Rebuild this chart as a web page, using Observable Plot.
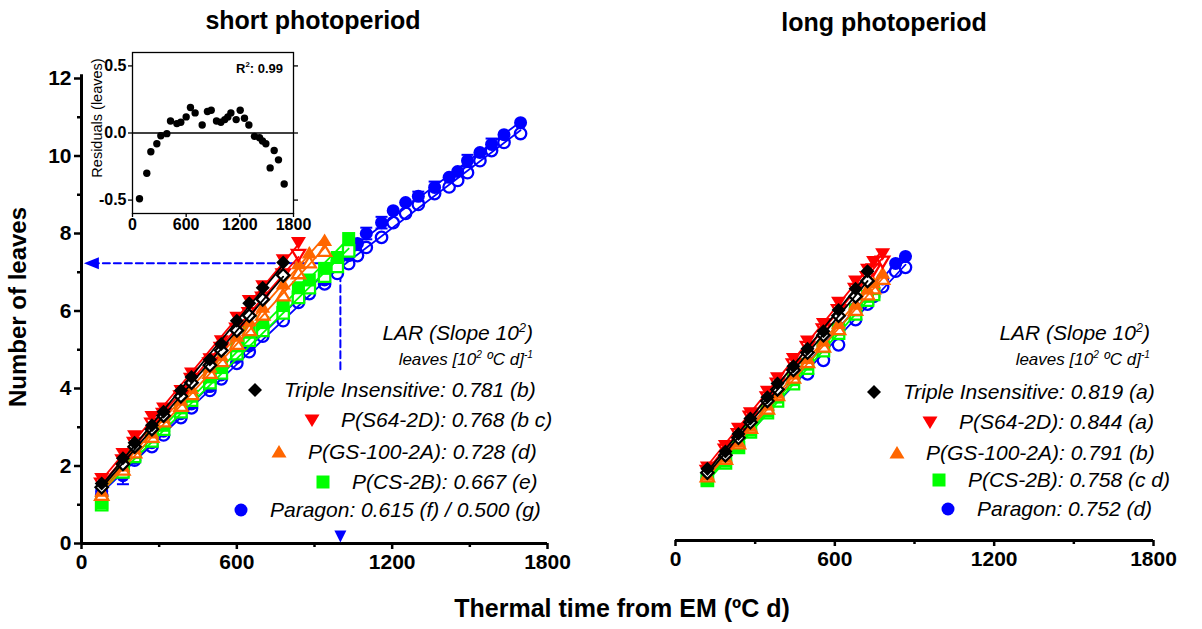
<!DOCTYPE html>
<html><head><meta charset="utf-8">
<script src="https://cdn.jsdelivr.net/npm/d3@7"></script>
<script src="https://cdn.jsdelivr.net/npm/@observablehq/plot@0.6"></script>
<style>
body{margin:0;background:#fff;font-family:"Liberation Sans",Arial,sans-serif;color:#000;}
#root{position:relative;width:1202px;height:629px;overflow:hidden;background:#fff;}
.abs{position:absolute;white-space:nowrap;}
.ttl{font-weight:bold;font-size:25px;transform:translate(-50%,-50%);}
.leg{font-style:italic;font-size:21px;display:flex;align-items:center;transform:translateY(-50%);}
.head{font-style:italic;font-size:21px;transform:translateY(-50%);}
.sub{font-style:italic;font-size:17px;transform:translateY(-50%);}
sup{font-size:0.6em;vertical-align:super;line-height:0;}
</style></head><body><div id="root"></div>
<script>
// ---------- data ----------
const shortTimes = [78,160,205,272,317,384,425,496,540,600,648,700,779,838,880,939,988,1032,1066,1100,1159,1204,1252,1301,1364,1420,1453,1491,1539,1584,1632,1696];
const longTimes = [120,188,237,282,346,384,444,497,557,614,678,723,746,780,829,866];

const genotypes = ["Triple Insensitive","P(S64-2D)","P(GS-100-2A)","P(CS-2B)","Paragon"];
const colors = ["#000000","#ff0000","#ff6600","#00ff00","#0000ff"];
const larShort = ["0.781 (b)","0.768 (b c)","0.728 (d)","0.667 (e)","0.615 (f) / 0.500 (g)"];
const larLong = ["0.819 (a)","0.844 (a)","0.791 (b)","0.758 (c d)","0.752 (d)"];

// short photoperiod (filled = _f, open = _o)
const sTI_f = [1.55,2.2,2.6,3.05,3.4,3.95,4.3,4.75,5.15,5.75,6.2,6.6,7.25];
const sTI_o = [1.45,2.05,2.5,2.95,3.3,3.8,4.15,4.6,4.98,5.5,5.88,6.3,6.92];
const sS64_f = [1.68,2.32,2.78,3.28,3.5,3.95,4.4,4.77,5.23,5.84,6.27,6.65,7.32,7.77];
const sS64_o = [1.55,2.15,2.6,3.1,3.35,3.8,4.25,4.65,5.05,5.55,5.95,6.35,6.95,7.45];
const sGS_f = [1.35,2.0,2.45,2.85,3.25,3.7,4.0,4.55,4.85,5.35,5.75,6.1,6.7,7.22,7.5,7.82];
const sGS_o = [1.25,1.9,2.35,2.75,3.15,3.55,3.85,4.4,4.7,5.15,5.5,5.9,6.4,6.97,7.25,7.55];
const sCS_f = [1.05,1.95,2.35,2.75,3.05,3.5,3.8,4.3,4.54,5.1,5.45,5.7,6.14,6.6,6.8,7.1,7.38,7.87];
const sCS_o = [1.0,1.85,2.25,2.65,2.95,3.4,3.7,4.15,4.4,4.9,5.25,5.5,5.95,6.35,6.6,6.9,7.15,7.55];
const sPar_f = [1.35,1.75,2.2,2.6,2.9,3.35,3.6,4.05,4.35,4.8,5.1,5.5,5.96,6.45,6.66,6.8,7.17,7.43,7.74,8.0,8.28,8.59,8.8,8.96,9.19,9.45,9.6,9.88,10.09,10.3,10.55,10.86];
const sPar_o = [1.25,1.9,2.15,2.5,2.8,3.25,3.5,3.95,4.25,4.65,4.95,5.35,5.75,6.22,6.45,6.7,6.97,7.22,7.43,7.64,7.9,8.28,8.52,8.75,9.03,9.2,9.37,9.57,9.88,10.14,10.35,10.58];
const sPar_se = [0,0.22,0,0,0,0,0,0,0,0,0,0,0,0,0,0,0,0,0,0.15,0.15,0,0,0.12,0.15,0,0,0.15,0,0.15,0,0];
const parBreak = 1000; // bilinear break for Paragon (short photoperiod)

// long photoperiod
const lTI_f = [1.85,2.3,2.75,3.15,3.7,4.05,4.5,4.95,5.4,5.95,6.5,6.95];
const lTI_o = [1.75,2.2,2.65,3.05,3.6,3.9,4.4,4.85,5.3,5.8,6.3,6.7];
const lS64_f = [1.9,2.45,2.9,3.3,3.85,4.2,4.7,5.15,5.6,6.15,6.7,7.0,7.2,7.4];
const lS64_o = [1.8,2.35,2.75,3.2,3.7,4.05,4.55,5.0,5.45,5.95,6.5,6.8,7.0,7.2];
const lGS_f = [1.7,2.15,2.55,2.95,3.5,3.8,4.3,4.7,5.15,5.6,6.1,6.5,6.65,6.9];
const lGS_o = [1.65,2.1,2.5,2.9,3.4,3.75,4.2,4.6,5.0,5.45,5.95,6.35,6.5,6.75];
const lCS_f = [1.6,2.05,2.45,2.85,3.35,3.7,4.15,4.55,5.0,5.45,5.95,6.3,6.5];
const lCS_o = [1.55,2.0,2.4,2.8,3.3,3.6,4.05,4.45,4.9,5.35,5.85,6.2,6.35];
const lPar_f = [1.65,2.1,2.5,2.9,3.4,3.75,4.2,4.6,5.05,5.5,6.0,6.35,6.55,6.75,7.15,7.33];
const lPar_o = [1.6,2.05,2.45,2.85,3.35,3.7,4.1,4.3,4.65,5.05,5.7,6.1,6.3,6.55,6.95,7.05];

// residuals inset (Paragon, short photoperiod)
const resT = [78,160,205,272,317,384,425,496,540,600,648,700,779,838,880,939,988,1032,1066,1100,1159,1204,1252,1301,1364,1420,1453,1491,1539,1584,1632,1696];
const resV = [-0.49,-0.30,-0.14,-0.08,-0.02,-0.005,0.09,0.07,0.08,0.12,0.19,0.15,0.06,0.16,0.17,0.09,0.08,0.10,0.12,0.15,0.10,0.17,0.11,0.06,-0.025,-0.035,-0.06,-0.08,-0.26,-0.13,-0.20,-0.38];
const r2Text = "0.99";

// guide (blue dashed arrow at 1000 ºC d)
const guideT = 1000, guideLeaves = 7.23, guideLow = 4.41, arrowT = 40, markLeaves = 0.18;

// axis ticks
const yMajor = [0,2,4,6,8,10,12], yMinor = [1,3,5,7,9,11];
const xMajor = [0,600,1200,1800], xMinor = [300,900,1500];

// ---------- symbols ----------
function sym(kind, k) {
  return {draw(c) {
    if (kind === "diamond") { const a = 7*k; c.moveTo(0,-a); c.lineTo(a,0); c.lineTo(0,a); c.lineTo(-a,0); c.closePath(); }
    else if (kind === "down") { c.moveTo(-7.5*k,-5.5*k); c.lineTo(7.5*k,-5.5*k); c.lineTo(0,7*k); c.closePath(); }
    else if (kind === "up") { c.moveTo(-7.5*k,5.5*k); c.lineTo(7.5*k,5.5*k); c.lineTo(0,-7*k); c.closePath(); }
    else if (kind === "square") { const a = 6.5*k; c.moveTo(-a,-a); c.lineTo(a,-a); c.lineTo(a,a); c.lineTo(-a,a); c.closePath(); }
    else if (kind === "circle") { const a = 6.5*k; c.moveTo(a,0); c.arc(0,0,a,0,2*Math.PI); }
    else if (kind === "left") { c.moveTo(-8,0); c.lineTo(7,-6); c.lineTo(7,6); c.closePath(); }
    else if (kind === "cap") { c.moveTo(-6,0); c.lineTo(6,0); }
  }};
}
const kinds = ["diamond","down","up","square","circle"];
const markDown = {draw(c){ c.moveTo(-6,-6); c.lineTo(6,-6); c.lineTo(0,6); c.closePath(); }};

function rows(times, vals) { return vals.map((v,i) => ({t: times[i], v})); }

const shortSeries = [[sTI_f,sTI_o],[sS64_f,sS64_o],[sGS_f,sGS_o],[sCS_f,sCS_o],[sPar_f,sPar_o]];
const longSeries = [[lTI_f,lTI_o],[lS64_f,lS64_o],[lGS_f,lGS_o],[lCS_f,lCS_o],[lPar_f,lPar_o]];

const font = "Liberation Sans, Arial, sans-serif";

function fitLines(data, color, brk) {
  const parts = brk ? [data.filter(d => d.t <= brk), data.filter(d => d.t >= brk - 40)] : [data];
  return parts.map(p => Plot.linearRegressionY(p, {x:"t", y:"v", stroke: color, strokeWidth: 1.8, ci: 0}));
}

function seriesMarks(times, series, brkFor) {
  const m = [];
  for (let g = 4; g >= 0; g--) {
    const [f, o] = series[g];
    const fd = rows(times, f), od = rows(times, o);
    const brk = brkFor ? brkFor[g] : null;
    m.push(Plot.dot(od, {x:"t", y:"v", symbol: sym(kinds[g], 0.88), fill:"white", stroke: colors[g], strokeWidth: 2.3}));
    m.push(Plot.dot(fd, {x:"t", y:"v", symbol: sym(kinds[g], 1), fill: colors[g]}));
    m.push(...fitLines(od, colors[g], brk));
    m.push(...fitLines(fd, colors[g], brk));
  }
  return m;
}

function xAxes() {
  return [
    Plot.axisX({ticks: xMajor, tickSize: 6, tickPadding: 5, strokeWidth: 2.5, fontSize: 21, fontWeight: "bold", label: null, tickFormat: d => String(d)}),
    Plot.axisX({ticks: xMinor, tickSize: 4, strokeWidth: 2.5, label: null, tickFormat: () => ""}),
    Plot.ruleY([0], {x1: 0, x2: 1800, strokeWidth: 3})
  ];
}

const style = {background:"transparent", fontFamily: font, fontSize:"21px", fontWeight:"bold", color:"#000", overflow:"visible"};

// error bars (Paragon short filled)
const parErr = sPar_f.map((v,i) => ({t: shortTimes[i], v, se: sPar_se[i]})).filter(d => d.se > 0);

const left = Plot.plot({
  width: 600, height: 629, marginLeft: 81, marginRight: 53, marginTop: 78, marginBottom: 86,
  x: {domain: [0,1800], label: null}, y: {domain: [0,12], label: null},
  style,
  marks: [
    Plot.axisY({ticks: yMajor, tickSize: 7, tickPadding: 3, strokeWidth: 2.5, fontSize: 21, fontWeight: "bold", label: null, tickFormat: d => String(d)}),
    Plot.axisY({ticks: yMinor, tickSize: 4, strokeWidth: 2.5, label: null, tickFormat: () => ""}),
    Plot.ruleX([0], {y1: 0, y2: 12.1, strokeWidth: 3}),
    ...xAxes(),
    Plot.line([[arrowT, guideLeaves],[guideT, guideLeaves]], {stroke:"#0000ff", strokeWidth: 2, strokeDasharray:"7,4"}),
    Plot.line([[guideT, guideLeaves],[guideT, guideLow]], {stroke:"#0000ff", strokeWidth: 2, strokeDasharray:"7,4"}),
    Plot.dot([[arrowT, guideLeaves]], {symbol: sym("left",1), fill:"#0000ff"}),
    Plot.dot([[guideT, markLeaves]], {symbol: markDown, fill:"#0000ff"}),
    Plot.ruleX(parErr, {x:"t", y1: d => d.v - d.se, y2: d => d.v + d.se, stroke:"#0000ff", strokeWidth: 2}),
    Plot.dot(parErr, {x:"t", y: d => d.v + d.se, symbol: sym("cap",1), stroke:"#0000ff", strokeWidth: 2}),
    Plot.dot(parErr, {x:"t", y: d => d.v - d.se, symbol: sym("cap",1), stroke:"#0000ff", strokeWidth: 2}),
    ...seriesMarks(shortTimes, shortSeries, [null,null,null,null,parBreak])
  ]
});

const right = Plot.plot({
  width: 602, height: 629, marginLeft: 75, marginRight: 49, marginTop: 75, marginBottom: 89,
  x: {domain: [0,1800], label: null}, y: {domain: [0,12], label: null, axis: null},
  style,
  marks: [
    ...xAxes(),
    ...seriesMarks(longTimes, longSeries, null)
  ]
});

const resid = resT.map((t,i) => ({t, r: resV[i]}));
const inset = Plot.plot({
  width: 240, height: 200, marginLeft: 42, marginRight: 37, marginTop: 12, marginBottom: 27,
  x: {domain: [0,1800], label: null}, y: {domain: [-0.6,0.6], label: null},
  style: {background:"transparent", fontFamily: font, fontSize:"16px", fontWeight:"bold", color:"#000", overflow:"visible"},
  marks: [
    Plot.frame({strokeWidth: 1.3}),
    Plot.ruleY([0], {strokeWidth: 1.5}),
    Plot.axisY({ticks: [-0.5,0,0.5], tickSize: 4, tickPadding: 2, strokeWidth: 1.3, fontSize: 16, fontWeight: "bold", label: null, tickFormat: d => d.toFixed(1)}),
    Plot.axisY({anchor: "right", ticks: [-0.5,0,0.5], tickSize: 4, strokeWidth: 1.3, label: null, tickFormat: () => ""}),
    Plot.axisX({ticks: [0,600,1200,1800], tickSize: 4, tickPadding: 1, strokeWidth: 1.3, fontSize: 16, fontWeight: "bold", label: null, tickFormat: d => String(d)}),
    Plot.dot(resid, {x:"t", y:"r", r: 3.7, fill:"black"})
  ]
});

// ---------- layout ----------
const root = document.getElementById("root");
function place(el, x, y) { const w = document.createElement("div"); w.className = "abs"; w.style.left = x+"px"; w.style.top = y+"px"; w.appendChild(el); root.appendChild(w); return w; }
place(left, 0, 0);
place(right, 600, 0);
place(inset, 90, 40);

function text(html, cls, css) { const d = document.createElement("div"); d.className = "abs " + cls; d.innerHTML = html; Object.assign(d.style, css); root.appendChild(d); return d; }
text("short photoperiod", "ttl", {left:"313px", top:"20px"});
text("long photoperiod", "ttl", {left:"884px", top:"22px"});
text("Thermal time from EM (ºC d)", "ttl", {left:"622px", top:"608px"});
text("Number of leaves", "ttl", {left:"18px", top:"307px", fontSize:"24px", transform:"translate(-50%,-50%) rotate(-90deg)"});
text("Residuals (leaves)", "", {left:"97px", top:"118px", fontSize:"14.5px", transform:"translate(-50%,-50%) rotate(-90deg)"});
text("R<sup>2</sup>: " + r2Text, "", {right:(1202-283)+"px", top:"68px", fontSize:"13px", fontWeight:"bold", transform:"translateY(-50%)"});

function symPath(s) { const p = d3.path(); s.draw(p); return p.toString(); }
function legend(lars, mx, my, headRight) {
  text("LAR (Slope 10<sup>2</sup>)", "head", {right:(1202-headRight)+"px", top:"333px"});
  text("leaves [10<sup>2</sup> ºC d]<sup>-1</sup>", "sub", {right:(1202-headRight)+"px", top:"360px"});
  genotypes.forEach((g,i) => {
    text(
      `<svg width="18" height="18" viewBox="-9 -9 18 18"><path d="${symPath(sym(kinds[i],1))}" fill="${colors[i]}"/></svg>` +
      `<span style="margin-left:20px">${g}: ${lars[i]}</span>`,
      "leg", {left:(mx[i]-9)+"px", top: my[i]+"px"});
  });
}
legend(larShort, [255,312,279,323,241], [390,420,452,482,510], 533);
legend(larLong, [874,930,897,939,948], [392,422,453,480,509], 1150);
</script></body></html>
